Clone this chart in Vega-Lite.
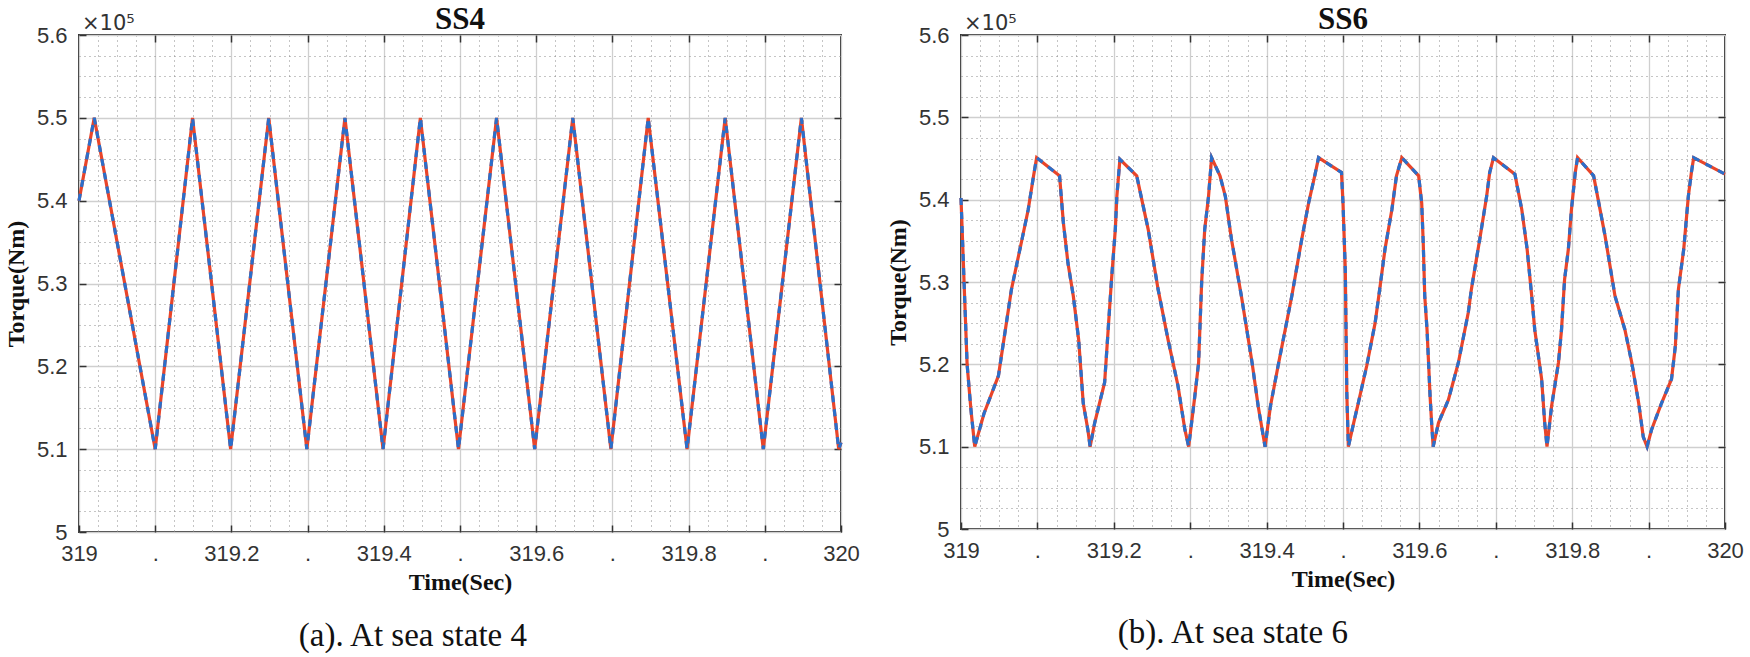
{
  "$schema": "https://vega.github.io/schema/vega-lite/v6.json",
  "background": "white",
  "padding": {"left": 3, "top": 3, "right": 0, "bottom": 0},
  "config": {
    "view": {"stroke": "#333333", "strokeWidth": 2},
    "axis": {
      "domain": false,
      "grid": true,
      "labelFont": "Liberation Sans",
      "labelFontSize": 22,
      "labelColor": "#333333",
      "labelOverlap": false,
      "labelFlush": false,
      "tickSize": -7,
      "tickColor": "#333333",
      "tickWidth": 1.5,
      "titleFont": "Liberation Serif",
      "titleFontWeight": "bold",
      "titleFontSize": 24,
      "titleColor": "#111111"
    }
  },
  "datasets": {
    "ss4": [
      {"t": 319.000, "torque": 540000},
      {"t": 319.020, "torque": 550000},
      {"t": 319.100, "torque": 510000},
      {"t": 319.149, "torque": 550000},
      {"t": 319.199, "torque": 510000},
      {"t": 319.249, "torque": 550000},
      {"t": 319.299, "torque": 510000},
      {"t": 319.349, "torque": 550000},
      {"t": 319.399, "torque": 510000},
      {"t": 319.448, "torque": 550000},
      {"t": 319.498, "torque": 510000},
      {"t": 319.548, "torque": 550000},
      {"t": 319.598, "torque": 510000},
      {"t": 319.648, "torque": 550000},
      {"t": 319.698, "torque": 510000},
      {"t": 319.747, "torque": 550000},
      {"t": 319.798, "torque": 510000},
      {"t": 319.848, "torque": 550000},
      {"t": 319.898, "torque": 510000},
      {"t": 319.948, "torque": 550000},
      {"t": 319.997, "torque": 510000},
      {"t": 320.000, "torque": 510800}
    ],
    "ss6": [
      {"t": 319.000, "torque": 540200},
      {"t": 319.004, "torque": 530000},
      {"t": 319.008, "torque": 520000},
      {"t": 319.013, "torque": 514500},
      {"t": 319.018, "torque": 510000},
      {"t": 319.030, "torque": 514000},
      {"t": 319.049, "torque": 518600},
      {"t": 319.066, "torque": 529100},
      {"t": 319.079, "torque": 534800},
      {"t": 319.088, "torque": 538800},
      {"t": 319.095, "torque": 542900},
      {"t": 319.099, "torque": 545100},
      {"t": 319.129, "torque": 542900},
      {"t": 319.134, "torque": 537200},
      {"t": 319.140, "torque": 532300},
      {"t": 319.147, "torque": 528300},
      {"t": 319.154, "torque": 523000},
      {"t": 319.160, "torque": 515300},
      {"t": 319.166, "torque": 512100},
      {"t": 319.169, "torque": 510000},
      {"t": 319.175, "torque": 512900},
      {"t": 319.188, "torque": 517800},
      {"t": 319.197, "torque": 530300},
      {"t": 319.202, "torque": 536400},
      {"t": 319.204, "torque": 540400},
      {"t": 319.208, "torque": 544900},
      {"t": 319.230, "torque": 542900},
      {"t": 319.245, "torque": 536400},
      {"t": 319.258, "torque": 529100},
      {"t": 319.271, "torque": 523000},
      {"t": 319.284, "torque": 517400},
      {"t": 319.293, "torque": 512100},
      {"t": 319.298, "torque": 510000},
      {"t": 319.306, "torque": 516100},
      {"t": 319.311, "torque": 520200},
      {"t": 319.315, "torque": 530000},
      {"t": 319.319, "torque": 536400},
      {"t": 319.324, "torque": 540400},
      {"t": 319.328, "torque": 545100},
      {"t": 319.339, "torque": 542900},
      {"t": 319.346, "torque": 540400},
      {"t": 319.354, "torque": 535200},
      {"t": 319.367, "torque": 528300},
      {"t": 319.381, "torque": 520200},
      {"t": 319.389, "torque": 514900},
      {"t": 319.398, "torque": 510000},
      {"t": 319.405, "torque": 514900},
      {"t": 319.415, "torque": 519800},
      {"t": 319.433, "torque": 528300},
      {"t": 319.446, "torque": 535200},
      {"t": 319.455, "torque": 539600},
      {"t": 319.463, "torque": 542900},
      {"t": 319.468, "torque": 545100},
      {"t": 319.498, "torque": 543300},
      {"t": 319.500, "torque": 539600},
      {"t": 319.503, "torque": 531500},
      {"t": 319.505, "torque": 516500},
      {"t": 319.507, "torque": 510000},
      {"t": 319.514, "torque": 512900},
      {"t": 319.520, "torque": 515300},
      {"t": 319.531, "torque": 519800},
      {"t": 319.542, "torque": 525000},
      {"t": 319.548, "torque": 529100},
      {"t": 319.555, "torque": 534000},
      {"t": 319.564, "torque": 538800},
      {"t": 319.570, "torque": 542900},
      {"t": 319.577, "torque": 545100},
      {"t": 319.599, "torque": 542900},
      {"t": 319.603, "torque": 539600},
      {"t": 319.605, "torque": 534800},
      {"t": 319.607, "torque": 528300},
      {"t": 319.610, "torque": 524200},
      {"t": 319.612, "torque": 520200},
      {"t": 319.614, "torque": 516100},
      {"t": 319.616, "torque": 512900},
      {"t": 319.618, "torque": 510000},
      {"t": 319.625, "torque": 512900},
      {"t": 319.638, "torque": 515700},
      {"t": 319.651, "torque": 520200},
      {"t": 319.664, "torque": 526300},
      {"t": 319.668, "torque": 529100},
      {"t": 319.679, "torque": 535200},
      {"t": 319.688, "torque": 540400},
      {"t": 319.692, "torque": 543300},
      {"t": 319.697, "torque": 545100},
      {"t": 319.725, "torque": 543100},
      {"t": 319.734, "torque": 538800},
      {"t": 319.741, "torque": 534000},
      {"t": 319.747, "torque": 528300},
      {"t": 319.751, "torque": 524200},
      {"t": 319.760, "torque": 518200},
      {"t": 319.764, "torque": 512900},
      {"t": 319.767, "torque": 510000},
      {"t": 319.773, "torque": 514900},
      {"t": 319.782, "torque": 520200},
      {"t": 319.786, "torque": 524200},
      {"t": 319.790, "torque": 530300},
      {"t": 319.795, "torque": 534000},
      {"t": 319.799, "torque": 538800},
      {"t": 319.804, "torque": 543300},
      {"t": 319.807, "torque": 545100},
      {"t": 319.828, "torque": 542900},
      {"t": 319.834, "torque": 540000},
      {"t": 319.843, "torque": 535600},
      {"t": 319.856, "torque": 528300},
      {"t": 319.869, "torque": 524200},
      {"t": 319.878, "torque": 520200},
      {"t": 319.887, "torque": 515300},
      {"t": 319.893, "torque": 511200},
      {"t": 319.898, "torque": 510000},
      {"t": 319.904, "torque": 512100},
      {"t": 319.917, "torque": 515300},
      {"t": 319.930, "torque": 518200},
      {"t": 319.935, "torque": 522200},
      {"t": 319.939, "torque": 529100},
      {"t": 319.946, "torque": 534000},
      {"t": 319.952, "torque": 540400},
      {"t": 319.956, "torque": 543300},
      {"t": 319.959, "torque": 545100},
      {"t": 320.000, "torque": 543100}
    ],
    "scale_note": [
      {"t": 319, "torque": 560000, "label": "×10⁵"}
    ]
  },
  "spacing": 24,
  "hconcat": [
    {
      "title": {"text": "(a). At sea state 4", "orient": "bottom", "anchor": "middle", "frame": "bounds", "font": "Liberation Serif", "fontSize": 33, "fontWeight": "normal", "color": "#111111", "offset": 25, "dx": -19},
      "vconcat": [
        {
          "width": 762,
          "height": 497,
          "title": {"text": "SS4", "anchor": "middle", "frame": "group", "font": "Liberation Serif", "fontSize": 31, "fontWeight": "bold", "color": "#111111", "offset": -23},
          "resolve": {"axis": {"x": "independent", "y": "independent"}},
          "layer": [
            {
              "data": {"name": "ss4"},
              "mark": {"type": "line", "stroke": "#e8452a", "strokeWidth": 3.2},
              "encoding": {
                "x": {"field": "t", "type": "quantitative", "scale": {"domain": [319, 320], "nice": false, "zero": false},
                  "axis": {"orient": "bottom", "title": "Time(Sec)", "titlePadding": 6, "labelPadding": 18,
                    "values": [319, 319.025, 319.05, 319.075, 319.1, 319.125, 319.15, 319.175, 319.2, 319.225, 319.25, 319.275, 319.3, 319.325, 319.35, 319.375, 319.4, 319.425, 319.45, 319.475, 319.5, 319.525, 319.55, 319.575, 319.6, 319.625, 319.65, 319.675, 319.7, 319.725, 319.75, 319.775, 319.8, 319.825, 319.85, 319.875, 319.9, 319.925, 319.95, 319.975, 320],
                    "labelExpr": "abs(datum.value*10-round(datum.value*10))>0.001 ? '' : (round(datum.value*10)%2==0 ? format(datum.value,'.1~f') : '.')",
                    "gridColor": {"condition": {"test": "abs(datum.value*10-round(datum.value*10))<0.001", "value": "#cfcfcf"}, "value": "#8a8a8a"},
                    "gridDash": {"condition": {"test": "abs(datum.value*10-round(datum.value*10))<0.001", "value": []}, "value": [1, 4]},
                    "gridWidth": {"condition": {"test": "abs(datum.value*10-round(datum.value*10))<0.001", "value": 1.3}, "value": 1},
                    "tickOpacity": {"condition": {"test": "abs(datum.value*10-round(datum.value*10))<0.001", "value": 1}, "value": 0}}},
                "y": {"field": "torque", "type": "quantitative", "scale": {"domain": [500000, 560000], "nice": false, "zero": false},
                  "axis": {"orient": "left", "title": "Torque(Nm)", "titlePadding": 8, "labelPadding": 19,
                    "values": [500000, 502500, 505000, 507500, 510000, 512500, 515000, 517500, 520000, 522500, 525000, 527500, 530000, 532500, 535000, 537500, 540000, 542500, 545000, 547500, 550000, 552500, 555000, 557500, 560000],
                    "labelExpr": "abs(datum.value/10000-round(datum.value/10000))>0.001 ? '' : format(datum.value/100000,'.1~f')",
                    "gridColor": {"condition": {"test": "abs(datum.value/10000-round(datum.value/10000))<0.001", "value": "#cfcfcf"}, "value": "#8a8a8a"},
                    "gridDash": {"condition": {"test": "abs(datum.value/10000-round(datum.value/10000))<0.001", "value": []}, "value": [1, 4]},
                    "gridWidth": {"condition": {"test": "abs(datum.value/10000-round(datum.value/10000))<0.001", "value": 1.3}, "value": 1},
                    "tickOpacity": {"condition": {"test": "abs(datum.value/10000-round(datum.value/10000))<0.001", "value": 1}, "value": 0}}}
              }
            },
            {
              "data": {"name": "ss4"},
              "mark": {"type": "line", "stroke": "#2b6fca", "strokeWidth": 3.2, "strokeDash": [7, 7]},
              "encoding": {
                "x": {"field": "t", "type": "quantitative", "axis": null},
                "y": {"field": "torque", "type": "quantitative", "axis": null}
              }
            },
            {
              "data": {"name": "scale_note"},
              "mark": {"type": "text", "font": "DejaVu Sans", "fontSize": 21, "fill": "#333333", "align": "left", "baseline": "alphabetic", "dx": 3, "dy": -5},
              "encoding": {
                "text": {"field": "label", "type": "nominal"},
                "x": {"field": "t", "type": "quantitative", "axis": {"orient": "top", "labels": false, "title": null, "grid": false, "values": [319.1, 319.2, 319.3, 319.4, 319.5, 319.6, 319.7, 319.8, 319.9]}},
                "y": {"field": "torque", "type": "quantitative", "axis": {"orient": "right", "labels": false, "title": null, "grid": false, "values": [510000, 520000, 530000, 540000, 550000]}}
              }
            }
          ]
        }
      ]
    },
    {
      "title": {"text": "(b). At sea state 6", "orient": "bottom", "anchor": "middle", "frame": "bounds", "font": "Liberation Serif", "fontSize": 33, "fontWeight": "normal", "color": "#111111", "offset": 25, "dx": -82},
      "vconcat": [
        {
          "width": 764,
          "height": 494,
          "title": {"text": "SS6", "anchor": "middle", "frame": "group", "font": "Liberation Serif", "fontSize": 31, "fontWeight": "bold", "color": "#111111", "offset": -23},
          "resolve": {"axis": {"x": "independent", "y": "independent"}},
          "layer": [
            {
              "data": {"name": "ss6"},
              "mark": {"type": "line", "stroke": "#e8452a", "strokeWidth": 3.2},
              "encoding": {
                "x": {"field": "t", "type": "quantitative", "scale": {"domain": [319, 320], "nice": false, "zero": false},
                  "axis": {"orient": "bottom", "title": "Time(Sec)", "titlePadding": 6, "labelPadding": 18,
                    "values": [319, 319.025, 319.05, 319.075, 319.1, 319.125, 319.15, 319.175, 319.2, 319.225, 319.25, 319.275, 319.3, 319.325, 319.35, 319.375, 319.4, 319.425, 319.45, 319.475, 319.5, 319.525, 319.55, 319.575, 319.6, 319.625, 319.65, 319.675, 319.7, 319.725, 319.75, 319.775, 319.8, 319.825, 319.85, 319.875, 319.9, 319.925, 319.95, 319.975, 320],
                    "labelExpr": "abs(datum.value*10-round(datum.value*10))>0.001 ? '' : (round(datum.value*10)%2==0 ? format(datum.value,'.1~f') : '.')",
                    "gridColor": {"condition": {"test": "abs(datum.value*10-round(datum.value*10))<0.001", "value": "#cfcfcf"}, "value": "#8a8a8a"},
                    "gridDash": {"condition": {"test": "abs(datum.value*10-round(datum.value*10))<0.001", "value": []}, "value": [1, 4]},
                    "gridWidth": {"condition": {"test": "abs(datum.value*10-round(datum.value*10))<0.001", "value": 1.3}, "value": 1},
                    "tickOpacity": {"condition": {"test": "abs(datum.value*10-round(datum.value*10))<0.001", "value": 1}, "value": 0}}},
                "y": {"field": "torque", "type": "quantitative", "scale": {"domain": [500000, 560000], "nice": false, "zero": false},
                  "axis": {"orient": "left", "title": "Torque(Nm)", "titlePadding": 8, "labelPadding": 19,
                    "values": [500000, 502500, 505000, 507500, 510000, 512500, 515000, 517500, 520000, 522500, 525000, 527500, 530000, 532500, 535000, 537500, 540000, 542500, 545000, 547500, 550000, 552500, 555000, 557500, 560000],
                    "labelExpr": "abs(datum.value/10000-round(datum.value/10000))>0.001 ? '' : format(datum.value/100000,'.1~f')",
                    "gridColor": {"condition": {"test": "abs(datum.value/10000-round(datum.value/10000))<0.001", "value": "#cfcfcf"}, "value": "#8a8a8a"},
                    "gridDash": {"condition": {"test": "abs(datum.value/10000-round(datum.value/10000))<0.001", "value": []}, "value": [1, 4]},
                    "gridWidth": {"condition": {"test": "abs(datum.value/10000-round(datum.value/10000))<0.001", "value": 1.3}, "value": 1},
                    "tickOpacity": {"condition": {"test": "abs(datum.value/10000-round(datum.value/10000))<0.001", "value": 1}, "value": 0}}}
              }
            },
            {
              "data": {"name": "ss6"},
              "mark": {"type": "line", "stroke": "#2b6fca", "strokeWidth": 3.2, "strokeDash": [7, 7]},
              "encoding": {
                "x": {"field": "t", "type": "quantitative", "axis": null},
                "y": {"field": "torque", "type": "quantitative", "axis": null}
              }
            },
            {
              "data": {"name": "scale_note"},
              "mark": {"type": "text", "font": "DejaVu Sans", "fontSize": 21, "fill": "#333333", "align": "left", "baseline": "alphabetic", "dx": 3, "dy": -5},
              "encoding": {
                "text": {"field": "label", "type": "nominal"},
                "x": {"field": "t", "type": "quantitative", "axis": {"orient": "top", "labels": false, "title": null, "grid": false, "values": [319.1, 319.2, 319.3, 319.4, 319.5, 319.6, 319.7, 319.8, 319.9]}},
                "y": {"field": "torque", "type": "quantitative", "axis": {"orient": "right", "labels": false, "title": null, "grid": false, "values": [510000, 520000, 530000, 540000, 550000]}}
              }
            }
          ]
        }
      ]
    }
  ]
}
